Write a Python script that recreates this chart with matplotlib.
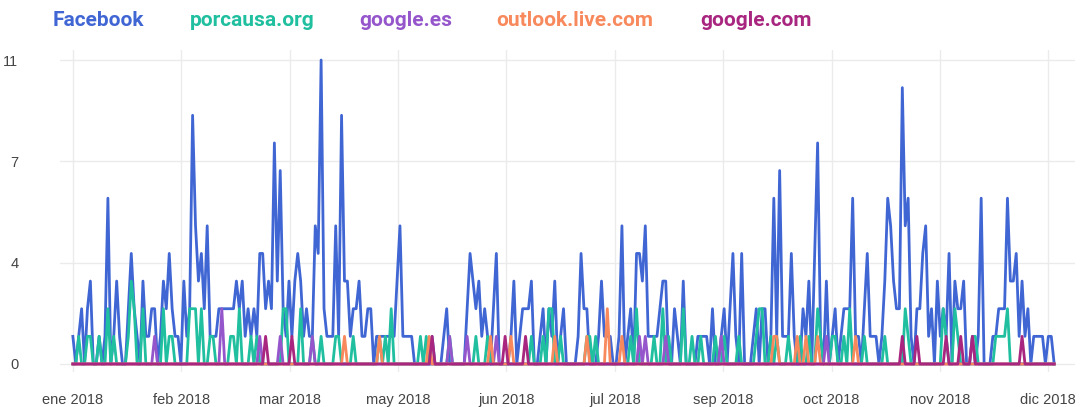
import numpy as np
import matplotlib
matplotlib.use("Agg")
import matplotlib.pyplot as plt

# daily visits, day 0 = first day of the series
facebook = [
    1, 0, 1, 2, 0, 2, 3, 0, 0, 1, 0, 1, 6, 0, 1, 3, 1, 0, 0, 2,
    4, 2, 1, 0, 3, 1, 1, 2, 2, 0, 1, 3, 2, 4, 2, 1, 1, 0, 3,
    1, 2, 9, 5, 3, 4, 2, 5, 1, 1, 1, 2, 2, 2, 2, 2, 2, 3, 2, 3, 1,
    2, 1, 2, 1, 4, 4, 2, 3, 2, 8, 3, 7, 2, 1, 3, 1, 3, 4, 3, 1, 2,
    1, 1, 5, 4, 11, 2, 1, 1, 1, 5, 1, 9, 3, 3, 1, 2, 2, 3, 1, 1,
    2, 2, 0, 1, 1, 1, 1, 1, 1, 1, 3, 5, 1, 1, 1, 1, 0, 0, 0, 0, 0, 0,
    1, 0, 0, 0, 1, 2, 0, 0, 0, 0, 0, 0, 2, 4, 3, 2, 3, 1, 2, 1,
    0, 2, 4, 0, 0, 0, 0, 1, 3, 0, 1, 2, 2, 2, 3, 0, 0, 1, 2, 0, 2, 1, 3,
    0, 1, 2, 0, 0, 0, 0, 1, 4, 2, 2, 0, 0, 0, 1, 3, 1, 1, 1, 0,
    0, 1, 5, 0, 1, 2, 0, 4, 4, 3, 5, 1, 1, 1, 1, 2, 3, 3, 0, 0, 2, 1,
    0, 3, 0, 0, 0, 0, 1, 1, 1, 1, 0, 2, 0, 0, 1, 2, 0, 2, 4, 1,
    0, 4, 0, 0, 0, 1, 2, 0, 2, 2, 0, 1, 6, 1, 7, 1, 1, 1, 4, 1, 0, 0, 2, 1,
    3, 0, 4, 8, 1, 0, 3, 0, 1, 2, 0, 1, 2, 2, 2, 6, 1, 1, 0, 2,
    4, 1, 1, 1, 0, 1, 3, 6, 5, 3, 2, 2, 10, 5, 6, 1, 0, 2, 2, 4, 5, 1, 2, 0,
    3, 1, 2, 1, 4, 0, 3, 2, 2, 3, 0, 0, 0, 0, 1, 6, 0, 0, 0, 1,
    1, 2, 2, 2, 6, 3, 3, 4, 1, 3, 1, 2, 0, 1, 1, 1, 1, 0, 1, 1, 0,
]

# the smaller referrers are zero except on these days
porcausa_days = [2, 5, 6, 9, 12, 14, 19, 20, 21, 24, 31, 33, 34,
                 40, 41, 42, 44, 47, 48, 54, 55, 57, 61, 63, 72, 73, 78,
                 82, 85, 90, 91, 96, 105, 107, 109, 119, 121,
                 129, 138, 142, 157, 161, 163, 164,
                 167, 176, 177, 179, 191, 193, 199, 202, 204,
                 209, 212, 215, 220, 223, 228, 234, 235, 236, 239, 241, 245, 249,
                 252, 255, 256, 260, 261, 264, 266, 271, 278, 285, 286,
                 298, 299, 302, 303, 308, 309, 316, 317, 318, 319, 320]
porcausa_vals = [1, 1, 1, 1, 2, 1, 1, 3, 2, 2, 2, 1, 1,
                 2, 2, 2, 2, 1, 1, 1, 1, 2, 1, 1, 2, 2, 2,
                 1, 1, 1, 1, 1, 1, 1, 2, 1, 1,
                 1, 1, 1, 1, 1, 2, 2,
                 1, 1, 1, 1, 1, 2, 1, 2, 1,
                 2, 1, 1, 1, 1, 1, 1, 2, 2, 1, 1, 1, 1,
                 1, 2, 1, 1, 1, 1, 2, 1, 1, 2, 1,
                 2, 1, 2, 1, 1, 1, 1, 1, 1, 1, 2]

google_es_days = [28, 51, 64, 71, 82, 129, 135, 145, 194, 196, 203, 222, 258, 308]
google_es_vals = [1, 2, 1, 1, 1, 1, 1, 1, 1, 1, 1, 1, 1, 1]

outlook_days = [93, 105, 122, 143, 150, 165, 176, 183, 188, 240, 241, 248, 251, 255, 268]
outlook_vals = [1, 1, 1, 1, 1, 1, 1, 2, 1, 1, 1, 1, 1, 1, 1]

google_com_days = [66, 75, 123, 148, 155, 284, 289, 299, 304, 308, 325]
google_com_vals = [1, 1, 1, 1, 1, 1, 1, 1, 1, 1, 1]

names = ["Facebook", "porcausa.org", "google.es", "outlook.live.com", "google.com"]
colors = ["#4066d4", "#1fbf9f", "#9556cc", "#f7895c", "#a8267f"]

month_labels = ["ene 2018", "feb 2018", "mar 2018", "may 2018", "jun 2018",
                "jul 2018", "sep 2018", "oct 2018", "nov 2018", "dic 2018"]
y_ticks = [0, 11 / 3, 22 / 3, 11]
y_labels = ["0", "4", "7", "11"]


def spread(days, vals, n):
    s = np.zeros(n)
    s[days] = vals
    return s


n = len(facebook)
days = np.arange(n)
series = [
    np.array(facebook, dtype=float),
    spread(porcausa_days, porcausa_vals, n),
    spread(google_es_days, google_es_vals, n),
    spread(outlook_days, outlook_vals, n),
    spread(google_com_days, google_com_vals, n),
]

fig = plt.figure(figsize=(10.91, 4.07), dpi=100)
ax = fig.add_axes([0.055, 0.086, 0.93, 0.791])

for s, c in zip(series, colors):
    ax.plot(days, s, color=c, lw=2.0, solid_joinstyle="round", zorder=3)

ax.set_xlim(-4.4, 343)
ax.set_ylim(-0.29, 11.36)
ax.set_xticks(np.linspace(0, 334, len(month_labels)))
ax.set_xticklabels(month_labels)
ax.set_yticks(y_ticks)
ax.set_yticklabels(y_labels)
ax.tick_params(length=0, labelsize=10.5, labelcolor="#444444")
ax.tick_params(axis="x", pad=15)
ax.tick_params(axis="y", pad=30)
for lab in ax.get_xticklabels() + ax.get_yticklabels():
    lab.set_family("Liberation Sans")
ax.grid(True, color="#ebebeb", lw=1, zorder=0)
for sp in ax.spines.values():
    sp.set_visible(False)

legend_x = [53, 190, 359, 496, 700]
for name, c, x in zip(names, colors, legend_x):
    fig.text(x / 1091, 1 - 21 / 407, name, color=c, fontsize=15,
             fontweight="bold", family="Roboto", va="center", ha="left")

fig.savefig("out.png", dpi=100)
